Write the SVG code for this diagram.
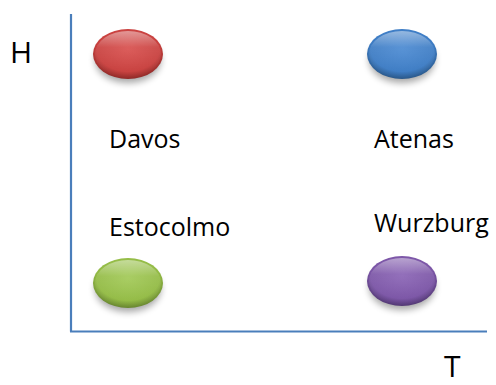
<svg xmlns="http://www.w3.org/2000/svg" width="496" height="385" viewBox="0 0 496 385">
  <style>
    .axis { stroke: #4a7ebb; stroke-width: 2.2; fill: none; }
    .label { font-family: "Open Sans", "Liberation Sans", sans-serif; font-size: 25px; fill: #000; }
    .axislabel { font-family: "Open Sans", "Liberation Sans", sans-serif; font-size: 30px; fill: #000; }
    .shadow { fill: #000; opacity: 0.35; filter: url(#soft); }
  </style>
  <defs>
    <filter id="soft" x="-50%" y="-50%" width="200%" height="200%">
      <feGaussianBlur stdDeviation="3.5"/>
    </filter>
    <radialGradient id="gRed" cx="0.5" cy="0.4" r="0.6">
      <stop offset="0" stop-color="#d8504e"/>
      <stop offset="0.75" stop-color="#c8403e"/>
      <stop offset="1" stop-color="#8e2a28"/>
    </radialGradient>
    <radialGradient id="gBlue" cx="0.5" cy="0.4" r="0.6">
      <stop offset="0" stop-color="#4b8ad2"/>
      <stop offset="0.75" stop-color="#3d7cc4"/>
      <stop offset="1" stop-color="#2a5788"/>
    </radialGradient>
    <radialGradient id="gGreen" cx="0.5" cy="0.4" r="0.6">
      <stop offset="0" stop-color="#a2c957"/>
      <stop offset="0.75" stop-color="#93bb45"/>
      <stop offset="1" stop-color="#678530"/>
    </radialGradient>
    <radialGradient id="gPurple" cx="0.5" cy="0.4" r="0.6">
      <stop offset="0" stop-color="#8a64b5"/>
      <stop offset="0.75" stop-color="#7b55a6"/>
      <stop offset="1" stop-color="#523873"/>
    </radialGradient>
    <linearGradient id="gloss" x1="0" y1="0" x2="0" y2="1">
      <stop offset="0" stop-color="#fff" stop-opacity="0.45"/>
      <stop offset="0.35" stop-color="#fff" stop-opacity="0.08"/>
      <stop offset="1" stop-color="#fff" stop-opacity="0"/>
    </linearGradient>
  </defs>

  <!-- axes -->
  <g id="axes">
    <line class="axis" x1="71" y1="14" x2="71" y2="331.5"/>
    <line class="axis" x1="70" y1="331.5" x2="487" y2="331.5"/>
    <text class="axislabel" x="10" y="63">H</text>
    <text class="axislabel" x="444" y="377">T</text>
  </g>

  <g id="davos">
    <ellipse class="shadow" cx="128" cy="60" rx="33" ry="23"/>
    <ellipse cx="128" cy="54" rx="35" ry="25" fill="url(#gRed)"/>
    <ellipse cx="128" cy="54" rx="33" ry="23" fill="url(#gloss)"/>
    <text class="label" x="109" y="148">Davos</text>
  </g>

  <g id="atenas">
    <ellipse class="shadow" cx="402" cy="60" rx="33" ry="23"/>
    <ellipse cx="402" cy="54" rx="35" ry="25" fill="url(#gBlue)"/>
    <ellipse cx="402" cy="54" rx="33" ry="23" fill="url(#gloss)"/>
    <text class="label" x="374" y="148">Atenas</text>
  </g>

  <g id="estocolmo">
    <ellipse class="shadow" cx="128" cy="289" rx="33" ry="23"/>
    <ellipse cx="128" cy="283" rx="35" ry="25" fill="url(#gGreen)"/>
    <ellipse cx="128" cy="283" rx="33" ry="23" fill="url(#gloss)"/>
    <text class="label" x="109" y="236">Estocolmo</text>
  </g>

  <g id="wurzburg">
    <ellipse class="shadow" cx="402" cy="287" rx="33" ry="23"/>
    <ellipse cx="402" cy="281" rx="35" ry="25" fill="url(#gPurple)"/>
    <ellipse cx="402" cy="281" rx="33" ry="23" fill="url(#gloss)"/>
    <text class="label" x="374" y="232">Wurzburg</text>
  </g>
</svg>
